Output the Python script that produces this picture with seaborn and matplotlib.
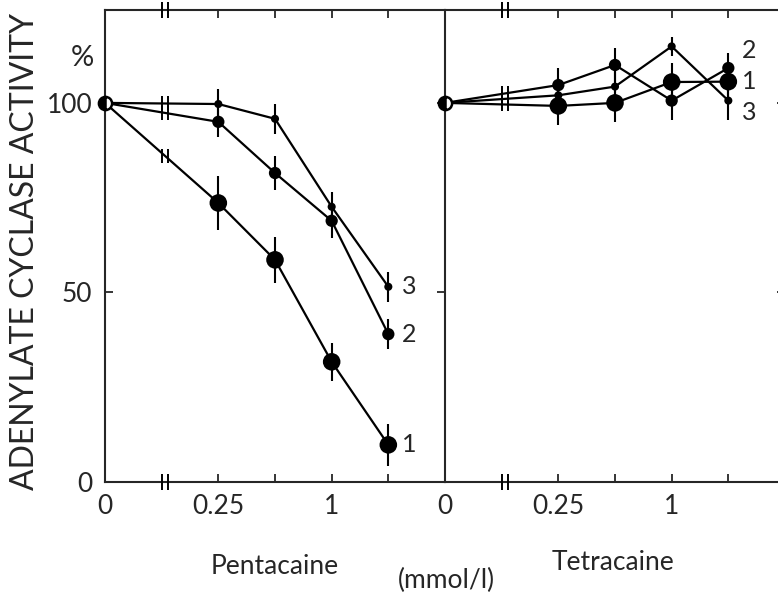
import numpy as np
import pandas as pd
import matplotlib
matplotlib.use("Agg")
import matplotlib.pyplot as plt
import seaborn as sns

# ---------------- data ----------------
conc = [0, 0.25, 0.5, 1, 2]                 # mmol/l
x_tick_labels = ["0", "0.25", "", "1", ""]
y_ticks = [0, 50, 100]
drugs = ["Pentacaine", "Tetracaine"]
series = ["1", "2", "3"]

penta_1 = [100, 73.6, 58.6, 31.7, 9.8]
penta_2 = [100, 95.0, 81.5, 68.9, 39.0]
penta_3 = [100, 99.7, 95.8, 72.6, 51.5]
penta_err_1 = [0, 7.0, 6.0, 5.0, 5.5]
penta_err_2 = [0, 4.0, 4.5, 4.5, 4.0]
penta_err_3 = [0, 4.0, 4.0, 4.0, 4.0]

tetra_1 = [100, 99.2, 100.0, 105.5, 105.6]
tetra_2 = [100, 104.7, 110.0, 100.6, 109.2]
tetra_3 = [100, 102.0, 104.3, 114.9, 100.6]
tetra_err_1 = [0, 5.0, 5.0, 5.0, 5.0]
tetra_err_2 = [0, 4.5, 4.5, 5.0, 4.0]
tetra_err_3 = [0, 4.5, 4.5, 2.5, 5.0]

# layout constants
ZERO_POS = 1 / 16      # where concentration 0 is drawn on the log2 axis
BREAK_POS = 0.13       # axis break between 0 and 0.25
label_dy = {"Pentacaine": {"1": 0, "2": 0, "3": 0},
            "Tetracaine": {"1": 0, "2": 4.5, "3": -3.2}}

values = {"Pentacaine": {"1": (penta_1, penta_err_1), "2": (penta_2, penta_err_2),
                         "3": (penta_3, penta_err_3)},
          "Tetracaine": {"1": (tetra_1, tetra_err_1), "2": (tetra_2, tetra_err_2),
                         "3": (tetra_3, tetra_err_3)}}

rows = []
for d in drugs:
    for s in series:
        v, e = values[d][s]
        for c, vi, ei in zip(conc, v, e):
            rows.append(dict(drug=d, series=s, conc=c,
                             xpos=c if c > 0 else ZERO_POS, value=vi, err=ei))
df = pd.DataFrame(rows)

# ---------------- style ----------------
sns.set_style("ticks")
plt.rcParams["font.family"] = ["Lato", "DejaVu Sans"]
plt.rcParams["axes.linewidth"] = 1.5

W, H = 778, 598
fig = plt.figure(figsize=(W / 100, H / 100), dpi=100)

def frac_x(px):
    return px / W

def frac_y(py):
    return 1 - py / H

bottom, top = frac_y(482), frac_y(10)
ax_l = fig.add_axes([frac_x(105), bottom, frac_x(445) - frac_x(105), top - bottom])
ax_r = fig.add_axes([frac_x(445), bottom, frac_x(785) - frac_x(445), top - bottom])

sizes = {"1": 160, "2": 78, "3": 34}

for ax, d in zip([ax_l, ax_r], drugs):
    sub = df[df.drug == d]
    ax.set_xscale("log", base=2)
    sns.lineplot(data=sub, x="xpos", y="value", units="series", estimator=None,
                 color="black", lw=1.6, ax=ax, legend=False, zorder=2)
    nz = sub[sub.conc > 0]
    ax.vlines(nz.xpos, nz.value - nz.err, nz.value + nz.err, color="black",
              lw=1.5, zorder=3)
    sns.scatterplot(data=nz, x="xpos", y="value", size="series", sizes=sizes,
                    color="black", edgecolor="none", legend=False, ax=ax, zorder=4)
    # zero point
    z = sub[sub.conc == 0]
    ax.plot(z.xpos.iloc[:1], z.value.iloc[:1], marker="o", ms=9.5, fillstyle="left",
            markerfacecolor="black", markerfacecoloralt="white",
            markeredgecolor="black", mew=1.8, ls="none", zorder=6, clip_on=False)

    # break marks on data lines
    lo, hi = np.log2(ZERO_POS), np.log2(0.25)
    t = (np.log2(BREAK_POS) - lo) / (hi - lo)
    for s in series:
        ss = sub[sub.series == s].sort_values("conc")
        y0, y1 = ss.value.iloc[0], ss.value.iloc[1]
        yb = y0 + t * (y1 - y0)
        for k in (-0.05, 0.05):
            ax.plot([BREAK_POS * 2 ** k], [yb], marker="|", ms=10, mew=1.4,
                    color="black", zorder=5)
    # break marks on spines
    for yy in (0, 124.5):
        for k in (-0.05, 0.05):
            ax.plot([BREAK_POS * 2 ** k], [yy], marker="|", ms=11, mew=1.4,
                    color="black", zorder=7, clip_on=False)

    # series labels
    for s in series:
        last = sub[(sub.series == s) & (sub.conc == max(conc))]
        ax.annotate(s, (last.xpos.iloc[0], last.value.iloc[0] + label_dy[d][s]),
                    xytext=(10, 0), textcoords="offset points", ha="left",
                    va="center", fontsize=18)

    ax.set_xlim(ZERO_POS, 4)
    ax.set_ylim(0, 124.5)
    ax.set_xticks([ZERO_POS] + conc[1:])
    ax.set_xticklabels(x_tick_labels)
    ax.xaxis.set_minor_locator(matplotlib.ticker.NullLocator())
    ax.set_yticks(y_ticks)
    ax.set_xlabel("")
    ax.set_ylabel("")
    ax.tick_params(axis="both", direction="in", length=6, width=1.3,
                   labelsize=19, top=True, bottom=True)
    ax.tick_params(axis="x", pad=9)
    for sp in ax.spines.values():
        sp.set_visible(True)
        sp.set_linewidth(1.5)

ax_l.tick_params(axis="y", left=True, right=True, labelleft=True, pad=9)
ax_l.spines["right"].set_visible(False)
ax_r.tick_params(axis="y", left=False, right=True, labelleft=False, labelright=False)

fig.text(frac_x(25), frac_y(252), "ADENYLATE CYCLASE ACTIVITY", rotation=90,
         ha="center", va="center", fontsize=23)
fig.text(frac_x(82), frac_y(58), "%", ha="center", va="center", fontsize=21)
fig.text(frac_x(275), frac_y(566), "Pentacaine", ha="center", va="center", fontsize=19)
fig.text(frac_x(613), frac_y(562), "Tetracaine", ha="center", va="center", fontsize=19)
fig.text(frac_x(446), frac_y(580), "(mmol/l)", ha="center", va="center", fontsize=19)

fig.savefig("out.png", dpi=100)
